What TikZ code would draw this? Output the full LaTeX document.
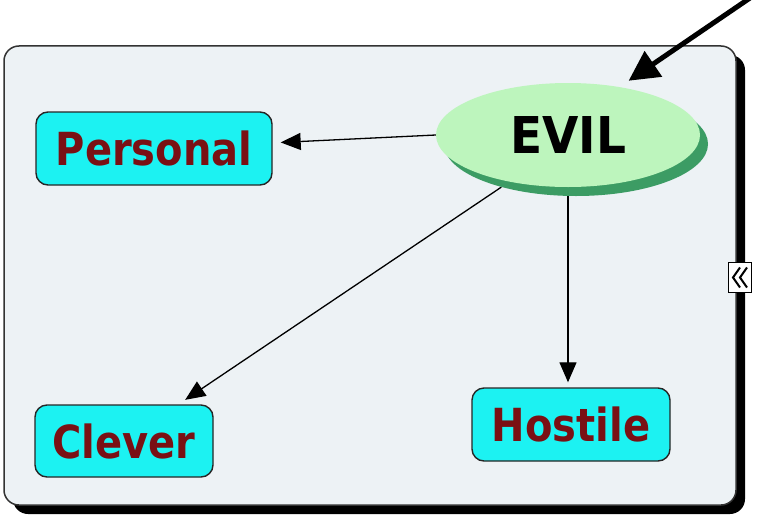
\documentclass[tikz,border=0pt]{standalone}
\usepackage{fontspec}
\setmainfont{DejaVu Sans}
\usetikzlibrary{shapes.geometric,arrows.meta}
\pgfdeclarelayer{back}
\pgfdeclarelayer{mid}
\pgfsetlayers{back,mid,main}
\definecolor{panel}{HTML}{EDF2F5}
\definecolor{cyanbox}{HTML}{1CF2F2}
\definecolor{wordred}{HTML}{7A1014}
\definecolor{evilfill}{HTML}{BDF5BD}
\definecolor{evilshadow}{HTML}{3C9C64}
\newcommand{\tallword}[2]{\scalebox{1}[#1]{#2}}
\tikzset{
  leaf/.style={draw=black!85, line width=1.4pt, fill=cyanbox, rounded corners=12pt,
    text=wordred, font=\fontsize{40}{44}\selectfont\bfseries, inner sep=0pt},
  thinarr/.style={line width=1.3pt, -{Triangle[length=20pt,width=17pt]}},
  thickarr/.style={line width=5pt, -{Triangle[length=30pt,width=30pt]}},
  chevron/.style={line width=2pt, line join=miter},
}
\begin{document}
\begin{tikzpicture}[x=1pt,y=-1pt]
\useasboundingbox (0,0) rectangle (759,519);
\begin{pgfonlayer}{back}
  \fill[black, rounded corners=15pt] (13,55) rectangle (745,514);
  \draw[fill=panel, draw=black!80, line width=1.5pt, rounded corners=15pt] (4,46) rectangle (736,505);
\end{pgfonlayer}
% EVIL ellipse and its shadow
\node[ellipse, fill=evilshadow, minimum width=264pt, minimum height=104pt, inner sep=0pt] (EVILsh) at (576,144) {};
\node[ellipse, fill=evilfill, minimum width=264pt, minimum height=104pt, inner sep=0pt,
  font=\fontsize{47}{50}\selectfont\bfseries] (EVIL) at (568,135) {\tallword{1.08}{EVIL}};
% leaves
\node[leaf, minimum width=236pt, minimum height=73pt] (Personal) at (154,148.5) {\tallword{1.14}{Personal}};
\node[leaf, minimum width=178pt, minimum height=72pt] (Clever) at (124,441) {\tallword{1.14}{Clever}};
\node[leaf, minimum width=198pt, minimum height=73pt] (Hostile) at (571,424.5) {\tallword{1.14}{Hostile}};
% connectors
\coordinate (incoming) at (750,-2);
\begin{pgfonlayer}{mid}
  \draw[thinarr, shorten >=8pt] (EVIL.west) -- (Personal);
  \draw[thinarr, shorten >=8pt] (EVILsh.210) -- (Clever);
  \draw[thinarr, shorten >=5pt] (EVIL.south) -- (EVIL.south |- Hostile.north);
\end{pgfonlayer}
\draw[thickarr, shorten >=11pt] (incoming) -- (EVIL.43);
% collapse button
\node[draw=black, line width=1.5pt, fill=white, minimum width=23pt, minimum height=30pt,
  inner sep=0pt] (collapse) at (740,277.5) {};
\draw[chevron] ([xshift=0pt,yshift=-10pt]collapse.center) -- ([xshift=-7pt]collapse.center) -- ([xshift=0pt,yshift=10pt]collapse.center);
\draw[chevron] ([xshift=7pt,yshift=-10pt]collapse.center) -- ([xshift=0pt]collapse.center) -- ([xshift=7pt,yshift=10pt]collapse.center);
\end{tikzpicture}
\end{document}
